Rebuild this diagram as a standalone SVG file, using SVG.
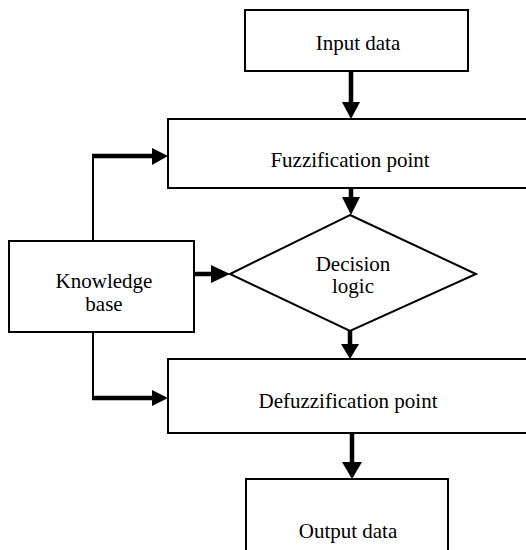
<svg xmlns="http://www.w3.org/2000/svg" width="526" height="550" viewBox="0 0 526 550">
<style>
.box{fill:#fff;stroke:#000;stroke-width:2}
text{font-family:'Liberation Serif','DejaVu Serif',serif;font-size:21px;fill:#000;text-anchor:middle}
.thin{fill:none;stroke:#000;stroke-width:2}
.thick{fill:none;stroke:#000;stroke-width:4.5}
.head{fill:#000;stroke:none}
</style>
<rect width="526" height="550" fill="#fff"/>
<g id="input">
<rect class="box" x="245" y="10" width="223" height="61"/>
<text x="358" y="50">Input data</text>
</g>
<g id="fuzzification">
<rect class="box" x="168" y="119" width="370" height="69"/>
<text x="350" y="167">Fuzzification point</text>
</g>
<g id="decision">
<polygon class="box" points="350,215 476,274 350,331 230,274"/>
<text x="353" y="271">Decision</text>
<text x="353" y="293">logic</text>
</g>
<g id="knowledge">
<rect class="box" x="9" y="241" width="185" height="91"/>
<text x="104" y="288">Knowledge</text>
<text x="104" y="311">base</text>
</g>
<g id="defuzzification">
<rect class="box" x="168" y="359" width="370" height="74"/>
<text x="348" y="408">Defuzzification point</text>
</g>
<g id="output">
<rect class="box" x="246" y="479" width="202" height="80"/>
<text x="348" y="538">Output data</text>
</g>
<g id="connectors">
<line class="thick" x1="351" y1="71" x2="351" y2="104"/>
<polygon class="head" points="342,102 360,102 351,119"/>
<line class="thick" x1="351" y1="188" x2="351" y2="199"/>
<polygon class="head" points="342,197 360,197 351,215"/>
<line class="thick" x1="350" y1="331" x2="350" y2="346"/>
<polygon class="head" points="341,344 359,344 350,359"/>
<line class="thick" x1="352" y1="433" x2="352" y2="464"/>
<polygon class="head" points="342,462 362,462 352,479"/>
<line class="thick" x1="194" y1="274" x2="213" y2="274"/>
<polygon class="head" points="211,265 211,283 230,274"/>
<polyline class="thin" points="93,241 93,156"/>
<line class="thick" x1="92" y1="156" x2="154" y2="156"/>
<polygon class="head" points="152,148 152,165 168,156"/>
<polyline class="thin" points="93,332 93,398"/>
<line class="thick" x1="92" y1="398" x2="154" y2="398"/>
<polygon class="head" points="152,390 152,406 168,398"/>
</g>
</svg>
